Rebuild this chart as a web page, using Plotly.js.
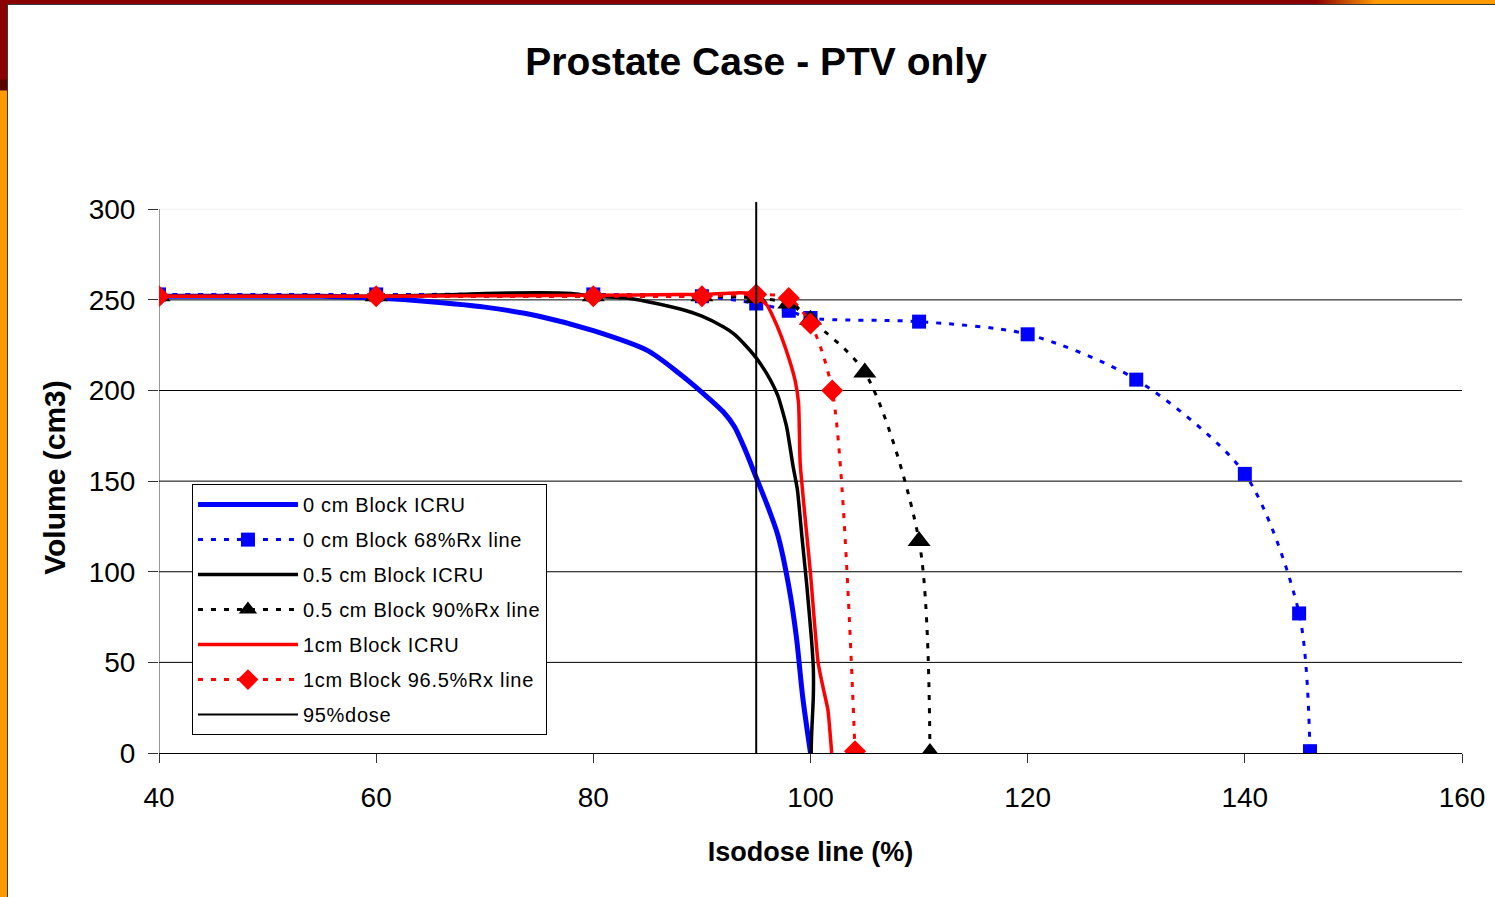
<!DOCTYPE html>
<html>
<head>
<meta charset="utf-8">
<script src="https://cdn.plot.ly/plotly-3.0.1.min.js"></script>
<style>
  html, body { margin: 0; padding: 0; background: #ffffff; }
  #chart { position: absolute; left: 0; top: 0; width: 1495px; height: 897px; }
  .frame { position: absolute; z-index: 10; pointer-events: none; }
  .legendtext { letter-spacing: 0.7px; }
</style>
</head>
<body>
<div id="chart"></div>
<div class="frame" style="left:0;top:0;width:1495px;height:4px;background:linear-gradient(to right,#8b0000 0%,#8b0000 88%,#ff9900 92%,#ff9900 100%);"></div>
<div class="frame" style="left:7px;top:4px;width:1488px;height:1px;background:#3a3a3a;"></div>
<div class="frame" style="left:0;top:0;width:7px;height:897px;background:linear-gradient(to bottom,#8b0000 0px,#8b0000 79px,#5a0000 80px,#5a0000 90px,#ff9900 91px,#ff9900 897px);"></div>
<div class="frame" style="left:7px;top:4px;width:1px;height:893px;background:#3a3a3a;"></div>
<script>
// ---- data ----
const icru0X = [40, 50, 55, 60, 65, 70, 75, 80, 85, 88, 90, 92, 93, 94, 95, 96, 97, 98, 98.7, 99.3, 100];
const icru0Y = [252, 252, 252, 251, 249, 246, 241, 233, 222, 209, 199, 188, 180, 167, 152, 137, 120, 92, 64, 30, 0];

const rx68X = [40, 60, 80, 90, 95, 98, 100, 110, 120, 130, 140, 145, 146];
const rx68Y = [253, 253, 253, 252, 248, 244, 240, 238, 231, 206, 154, 77, 1];

const icru05X = [40, 50, 60, 65, 70, 75, 78, 80, 83, 85, 88, 90, 92, 93, 94, 95, 96, 97, 97.8, 98.4, 98.8, 99.2, 99.65, 100.1, 100.26, 100.26, 100.1, 100.05];
const icru05Y = [252, 252, 252, 252.5, 253.5, 254, 253.5, 252, 251, 249, 245, 241, 235, 231, 225, 218, 209, 197, 180, 158, 145, 120, 93, 62, 47, 31, 10, 0];

const rx90X = [40, 60, 80, 90, 95, 98, 100, 105, 110, 111];
const rx90Y = [252, 252, 252, 252, 251, 248, 239, 210, 117, 0];

const icru1X = [40, 60, 80, 88, 90, 92, 93.5, 94.5, 95, 96, 96.6, 97.3, 98.1, 98.6, 98.9, 99.05, 99.5, 100, 100.7, 101.2, 101.6, 101.95];
const icru1Y = [252, 252, 252.5, 253, 253, 253.5, 254, 253.5, 252.5, 247, 240, 230, 216, 205, 193, 160, 130, 99, 50, 35, 24, 0];

const rx965X = [40, 60, 80, 90, 95, 98, 100, 102, 104.1];
const rx965Y = [252, 252, 252, 252, 253, 251, 237, 200, 1];

const doseX = [95, 95];
const doseY = [0, 304];

const names = ['0 cm Block ICRU', '0 cm Block 68%Rx line', '0.5 cm Block ICRU', '0.5 cm Block 90%Rx line',
               '1cm Block ICRU', '1cm Block 96.5%Rx line', '95%dose'];

const yTicks = [0, 50, 100, 150, 200, 250, 300];
const xTicks = [40, 60, 80, 100, 120, 140, 160];
const gridDark = [50, 100, 150, 200, 250];
const gridLight = [300];

const dotDash = '5px,8px';

const traces = [
  {x: icru0X, y: icru0Y, name: names[0], mode: 'lines', line: {color: '#0000ff', width: 5, shape: 'spline', smoothing: 0.8}},
  {x: rx68X, y: rx68Y, name: names[1], mode: 'lines+markers', line: {color: '#0000ff', width: 3, dash: dotDash, shape: 'spline', smoothing: 0.8},
   marker: {symbol: 'square', size: 14, color: '#0000ff'}},
  {x: icru05X, y: icru05Y, name: names[2], mode: 'lines', line: {color: '#000000', width: 3.5, shape: 'spline', smoothing: 0.5}},
  {x: rx90X, y: rx90Y, name: names[3], mode: 'lines+markers', line: {color: '#000000', width: 3, dash: dotDash, shape: 'spline', smoothing: 0.8},
   marker: {symbol: 'triangle-up', size: 20, color: '#000000'}},
  {x: icru1X, y: icru1Y, name: names[4], mode: 'lines', line: {color: '#ff0000', width: 3.5, shape: 'spline', smoothing: 0.5}},
  {x: rx965X, y: rx965Y, name: names[5], mode: 'lines+markers', line: {color: '#ff0000', width: 3, dash: dotDash, shape: 'spline', smoothing: 0.8},
   marker: {symbol: 'diamond', size: 17, color: '#ff0000'}},
  {x: doseX, y: doseY, name: names[6], mode: 'lines', line: {color: '#000000', width: 2}}
];
traces.forEach((t, i) => { t.type = 'scatter'; t.legendgroup = 'g' + i; t.cliponaxis = true; });

const shapes = [];
gridDark.forEach(v => shapes.push({type: 'line', xref: 'paper', yref: 'y', x0: 0, x1: 1, y0: v, y1: v, layer: 'below', line: {color: '#000000', width: 1}}));
gridLight.forEach(v => shapes.push({type: 'line', xref: 'paper', yref: 'y', x0: 0, x1: 1, y0: v, y1: v, layer: 'below', line: {color: '#eeeeee', width: 1}}));
shapes.push({type: 'line', xref: 'x', yref: 'y', x0: xTicks[0], x1: xTicks[0], y0: yTicks[0], y1: yTicks[yTicks.length - 1], layer: 'below', line: {color: '#333333', width: 1}});

const font = 'Arial, "Liberation Sans", sans-serif';
const layout = {
  width: 1495, height: 897,
  paper_bgcolor: 'rgba(0,0,0,0)', plot_bgcolor: 'rgba(0,0,0,0)',
  margin: {l: 159, r: 33, t: 202, b: 144},
  font: {family: font, color: '#000000'},
  title: {text: 'Prostate Case - PTV only', font: {family: font, size: 39, weight: 'bold'},
          xref: 'container', yref: 'container', x: 0.5057, xanchor: 'center', y: 0.932, yanchor: 'middle'},
  xaxis: {range: [40, 160], tickvals: xTicks, ticktext: xTicks.map(String), showgrid: false, zeroline: false,
          showline: true, linecolor: '#000000', linewidth: 1, ticks: 'outside', ticklen: 9, tickcolor: '#333333',
          ticklabelstandoff: 10,
          tickfont: {size: 28}, title: {text: 'Isodose line (%)', font: {size: 27, weight: 'bold'}, standoff: 30}},
  yaxis: {range: [0, 304], tickvals: yTicks, ticktext: yTicks.map(String), showgrid: false, zeroline: false,
          showline: false, ticks: 'outside', ticklen: 10, tickcolor: '#333333',
          ticklabelstandoff: 7,
          tickfont: {size: 28}, title: {text: 'Volume (cm3)', font: {size: 30, weight: 'bold'}, standoff: 14}},
  shapes: shapes,
  showlegend: true,
  legend: {x: 0.0253, y: 0.488, xanchor: 'left', yanchor: 'top', bgcolor: '#ffffff', bordercolor: '#000000', borderwidth: 1,
           font: {size: 20}, itemwidth: 100, traceorder: 'grouped', tracegroupgap: 6}
};

Plotly.newPlot('chart', traces, layout, {displayModeBar: false, staticPlot: true});
</script>
</body>
</html>
